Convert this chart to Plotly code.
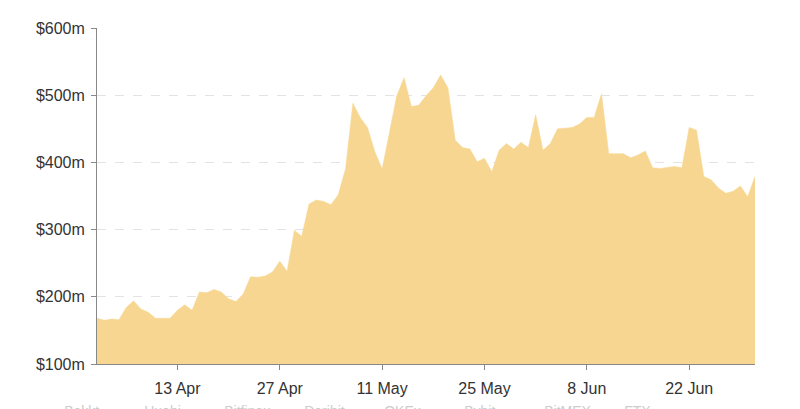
import plotly.graph_objects as go
import pandas as pd

start_date = "2020-04-02"
values_m = [168, 165, 167, 166, 184, 194, 182, 177, 168, 168,
            168, 180, 188, 180, 207, 206, 211, 207, 197, 193,
            204, 230, 229, 231, 237, 253, 238, 299, 290, 338,
            344, 342, 337, 352, 391, 488, 467, 452, 416, 390,
            442, 499, 526, 483, 485, 499, 511, 530, 511, 433,
            422, 420, 401, 406, 386, 418, 428, 420, 430, 422,
            471, 418, 428, 450, 451, 452, 457, 467, 467, 502,
            413, 413, 413, 407, 411, 417, 392, 391, 392, 394,
            392, 452, 448, 379, 374, 362, 354, 357, 365, 349,
            379]
dates = pd.date_range(start_date, periods=len(values_m), freq="D")

tick_dates = ["2020-04-13", "2020-04-27", "2020-05-11", "2020-05-25", "2020-06-08", "2020-06-22"]
tick_labels = ["13 Apr", "27 Apr", "11 May", "25 May", "8 Jun", "22 Jun"]
y_ticks = [100, 200, 300, 400, 500, 600]
y_labels = ["$100m", "$200m", "$300m", "$400m", "$500m", "$600m"]
legend_names = ["Bakkt", "Huobi", "Bitfinex", "Deribit", "OKEx", "Bybit", "BitMEX", "FTX"]

fill_color = "rgb(247,214,145)"

fig = go.Figure()
fig.add_trace(go.Scatter(
    x=dates, y=values_m, mode="lines", fill="tozeroy",
    line=dict(color=fill_color, width=0.5), fillcolor=fill_color,
    hoverinfo="x+y", showlegend=False,
))

font_family = "Liberation Sans, Arial, sans-serif"
fig.update_layout(
    width=800, height=409,
    margin=dict(l=89, r=53, t=16, b=53),
    paper_bgcolor="white", plot_bgcolor="white",
    font=dict(family=font_family, size=16, color="#333333"),
    showlegend=False,
)
fig.update_xaxes(
    range=[dates[0], dates[-1]],
    tickvals=pd.to_datetime(tick_dates), ticktext=tick_labels,
    showgrid=False, showline=True, linecolor="#888888", linewidth=1,
    ticks="outside", ticklen=5, tickcolor="#888888",
    ticklabelstandoff=5,
    tickfont=dict(size=16, color="#333333"),
)
fig.update_yaxes(
    range=[100, 600],
    tickvals=y_ticks, ticktext=y_labels,
    showgrid=True, gridcolor="#e3e3e3", griddash="dash", gridwidth=1,
    showline=True, linecolor="#888888", linewidth=1,
    ticks="outside", ticklen=5, tickcolor="#888888",
    ticklabelstandoff=3,
    tickfont=dict(size=16, color="#333333"),
    zeroline=False,
)

# Faint legend row, mostly cut off at the bottom edge (as in the reference)
for i, name in enumerate(legend_names):
    x0 = 41 + i * 80
    fig.add_annotation(
        xref="paper", yref="paper",
        x=(x0 - 89) / 658, y=-0.11,
        xanchor="left", yanchor="top",
        text="<span style='font-size:9px'>●</span>  " + name,
        showarrow=False, font=dict(size=14, color="#cccccc"),
    )

fig.write_html("out.html")
